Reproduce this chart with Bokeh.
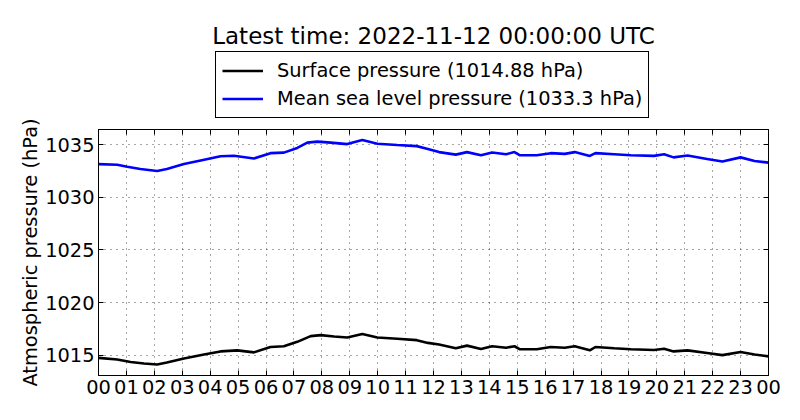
from bokeh.plotting import figure
from bokeh.layouts import column
from bokeh.models import (Range1d, FixedTicker, LinearAxis, Legend, LegendItem,
                          CustomLabelingPolicy)
from bokeh.embed import file_html
from bokeh.resources import INLINE

# ---- data (hours since 00 UTC, hPa) ----
msl_hours = [0, 0.67, 1.03, 1.5, 2.1, 2.45, 3.06, 3.66, 4.37, 4.85, 5.57, 6.16, 6.64,
             7.12, 7.48, 7.84, 8.32, 8.91, 9.45, 9.99, 10.7, 11.4, 11.8, 12.2, 12.8,
             13.2, 13.7, 14.1, 14.6, 14.9, 15.1, 15.7, 16.2, 16.7, 17.06, 17.6, 17.8,
             18.47, 19.07, 19.9, 20.26, 20.6, 21.1, 21.8, 22.35, 23.0, 23.5, 24.0]
msl_values = [1033.16, 1033.1, 1032.9, 1032.7, 1032.5, 1032.7, 1033.16, 1033.5, 1033.9,
              1033.95, 1033.7, 1034.2, 1034.25, 1034.7, 1035.2, 1035.3, 1035.2, 1035.06,
              1035.45, 1035.1, 1034.97, 1034.87, 1034.6, 1034.3, 1034.06, 1034.3, 1034.0,
              1034.26, 1034.1, 1034.3, 1034.0, 1034.0, 1034.2, 1034.13, 1034.3, 1033.94,
              1034.2, 1034.1, 1034.0, 1033.94, 1034.1, 1033.8, 1033.97, 1033.65, 1033.4,
              1033.8, 1033.45, 1033.3]

sfc_hours = [0, 0.67, 1.15, 1.63, 2.1, 2.45, 3.06, 3.78, 4.37, 4.97, 5.57, 6.16, 6.64,
             7.12, 7.6, 7.96, 8.44, 8.91, 9.45, 9.99, 10.7, 11.4, 11.8, 12.2, 12.8,
             13.2, 13.7, 14.1, 14.6, 14.9, 15.1, 15.7, 16.2, 16.7, 17.06, 17.6, 17.8,
             18.47, 19.07, 19.9, 20.26, 20.6, 21.1, 21.8, 22.35, 23.0, 23.5, 24.0]
sfc_values = [1014.74, 1014.58, 1014.35, 1014.2, 1014.1, 1014.3, 1014.68, 1015.06, 1015.35,
              1015.45, 1015.26, 1015.77, 1015.84, 1016.26, 1016.8, 1016.9, 1016.77, 1016.68,
              1017.0, 1016.68, 1016.55, 1016.42, 1016.16, 1016.0, 1015.65, 1015.9, 1015.58,
              1015.84, 1015.7, 1015.84, 1015.55, 1015.55, 1015.77, 1015.7, 1015.84, 1015.45,
              1015.77, 1015.65, 1015.55, 1015.48, 1015.6, 1015.35, 1015.45, 1015.2, 1015.0,
              1015.3, 1015.06, 1014.88]

x_ticks = list(range(25))
x_tick_labels = ["00", "01", "02", "03", "04", "05", "06", "07", "08", "09", "10", "11",
                 "12", "13", "14", "15", "16", "17", "18", "19", "20", "21", "22", "23", "00"]
y_ticks = [1015, 1020, 1025, 1030, 1035]

title_text = "Latest time: 2022-11-12 00:00:00 UTC"
sfc_label = "Surface pressure (1014.88 hPa)"
msl_label = "Mean sea level pressure (1033.3 hPa)"
y_label = "Atmospheric pressure (hPa)"

FONT = "DejaVu Sans"
FS = "19.4px"
SFC_COLOR = "black"
MSL_COLOR = "#0000ff"
LW = 2.6

# ---------------- header: title + legend ----------------
HEAD_H = 119
head = figure(width=784, height=HEAD_H, output_backend="svg", toolbar_location=None,
              x_range=Range1d(0, 24), y_range=Range1d(1013.06, 1036.45),
              min_border_left=98, min_border_right=16, min_border_top=48,
              min_border_bottom=0)
head.axis.visible = False
head.grid.visible = False
head.outline_line_color = None
head.background_fill_color = "white"
head.border_fill_color = "white"
head.title.text = title_text
head.title.align = "center"
head.title.text_font = FONT
head.title.text_font_size = "23px"
head.title.text_font_style = "normal"
head.title.text_color = "black"
head.title.standoff = 0

h_sfc = head.line(sfc_hours, sfc_values, line_color=SFC_COLOR, line_width=LW, visible=False)
h_msl = head.line(msl_hours, msl_values, line_color=MSL_COLOR, line_width=LW, visible=False)

legend = Legend(items=[LegendItem(label=sfc_label, renderers=[h_sfc]),
                       LegendItem(label=msl_label, renderers=[h_msl])],
                location=(117, 1), orientation="vertical",
                margin=0, padding=6, spacing=3,
                glyph_width=41, glyph_height=25, label_height=25, label_standoff=14,
                label_text_font=FONT, label_text_font_size=FS, label_text_color="black",
                border_line_color="black", border_line_width=1, border_line_alpha=1,
                background_fill_color="white", background_fill_alpha=1,
                inactive_fill_alpha=0, click_policy="none")
head.add_layout(legend, "center")

# ---------------- main chart ----------------
p = figure(width=784, height=404 - HEAD_H, output_backend="svg", toolbar_location=None,
           x_range=Range1d(0, 24), y_range=Range1d(1013.06, 1036.45),
           min_border_left=98, min_border_right=16, min_border_top=129 - HEAD_H,
           min_border_bottom=29)
p.background_fill_color = "white"
p.border_fill_color = "white"
p.outline_line_color = "black"

p.line(sfc_hours, sfc_values, line_color=SFC_COLOR, line_width=LW)
p.line(msl_hours, msl_values, line_color=MSL_COLOR, line_width=LW)

xa = p.xaxis[0]
xa.ticker = FixedTicker(ticks=x_ticks)
xa.major_label_overrides = {t: l for t, l in zip(x_ticks, x_tick_labels)}
ya = p.yaxis[0]
ya.ticker = FixedTicker(ticks=y_ticks)
ya.axis_label = y_label

for ax in (xa, ya):
    ax.major_tick_in = 5
    ax.major_tick_out = 0
    ax.minor_tick_line_color = None
    ax.axis_line_color = "black"
    ax.major_tick_line_color = "black"
    ax.major_label_text_font = FONT
    ax.major_label_text_font_size = FS
    ax.major_label_text_color = "black"
    ax.major_label_standoff = 4
    ax.axis_label_text_font = FONT
    ax.axis_label_text_font_size = FS
    ax.axis_label_text_font_style = "normal"
    ax.axis_label_text_color = "black"
    ax.axis_label_standoff = 0

no_labels = "for (const i of indices) indices.unset(i)"
top = LinearAxis(ticker=FixedTicker(ticks=x_ticks), major_label_text_font_size="0px",
                 major_label_standoff=0,
                 major_label_policy=CustomLabelingPolicy(code=no_labels))
right = LinearAxis(ticker=FixedTicker(ticks=y_ticks), major_label_text_font_size="0px",
                   major_label_standoff=0,
                   major_label_policy=CustomLabelingPolicy(code=no_labels))
for ax in (top, right):
    ax.major_tick_in = 5
    ax.major_tick_out = 0
    ax.minor_tick_line_color = None
    ax.axis_line_color = "black"
p.add_layout(top, "above")
p.add_layout(right, "right")

for g in (p.xgrid[0], p.ygrid[0]):
    g.grid_line_color = "black"
    g.grid_line_dash = "1 5"
    g.grid_line_alpha = 0.7
    g.grid_line_width = 1
p.xgrid[0].ticker = FixedTicker(ticks=x_ticks)
p.ygrid[0].ticker = FixedTicker(ticks=y_ticks)

layout = column(head, p, spacing=0)
open("out.html", "w").write(file_html(layout, INLINE))
